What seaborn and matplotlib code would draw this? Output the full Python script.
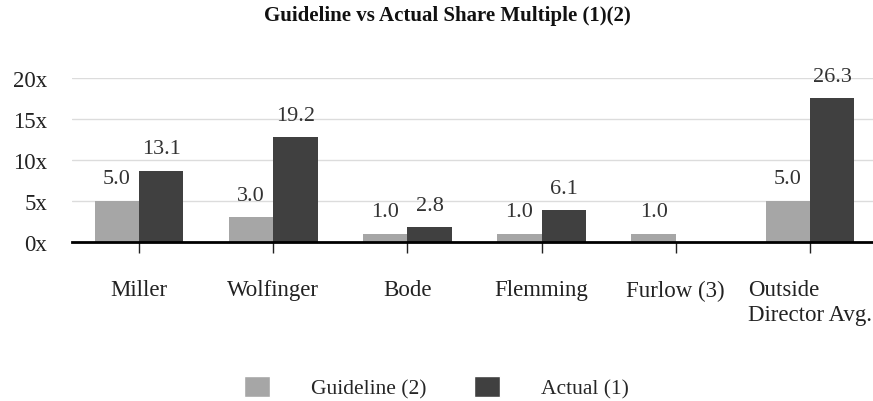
import matplotlib
matplotlib.use("Agg")
import matplotlib.pyplot as plt
import seaborn as sns
import pandas as pd
from matplotlib.patches import Patch

# values
categories = ["Miller", "Wolfinger", "Bode", "Flemming", "Furlow (3)", "Outside\nDirector Avg."]
series = ["Guideline (2)", "Actual (1)"]
guideline = [5.0, 3.0, 1.0, 1.0, 1.0, 5.0]
actual = [8.7, 12.8, 1.8, 3.9, 0.0, 17.5]  # bar heights as drawn
guideline_labels = ["5.0", "3.0", "1.0", "1.0", "1.0", "5.0"]
actual_labels = ["13.1", "19.2", "2.8", "6.1", "", "26.3"]
yticks = [0, 5, 10, 15, 20]
ytick_labels = ["0x", "5x", "10x", "15x", "20x"]
colors = ["#a6a6a6", "#404040"]

df = pd.DataFrame({
    "category": categories * 2,
    "series": [series[0]] * len(categories) + [series[1]] * len(categories),
    "value": guideline + actual,
})

sns.set_theme(style="white")
plt.rcParams["font.family"] = ["Liberation Serif", "DejaVu Serif"]

W, H = 873, 402
fig = plt.figure(figsize=(W / 100, H / 100), dpi=100)
ax = fig.add_axes([72 / W, 1 - 243 / H, 1 - 72 / W, (243 - 79) / H])

sns.barplot(data=df, x="category", y="value", hue="series", hue_order=series,
            order=categories, palette=colors, width=0.66, saturation=1,
            linewidth=0, legend=False, ax=ax)

ax.set_xlim(-0.5, 5.47)
ax.set_ylim(0, 20)
ax.set_yticks(yticks)
ax.set_yticklabels(ytick_labels)
ax.set_xlabel("")
ax.set_ylabel("")
ax.yaxis.grid(True, color="#dcdcdc", lw=1)
ax.set_axisbelow(True)
for s in ["left", "right", "top"]:
    ax.spines[s].set_visible(False)
ax.spines["bottom"].set_color("black")
ax.spines["bottom"].set_linewidth(2)
ax.spines["bottom"].set_zorder(5)

ax.tick_params(axis="x", bottom=True, length=8, width=1, color="#222222",
               pad=19, labelsize=16.5, labelcolor="#222222")
ax.tick_params(axis="y", left=False, pad=12, labelsize=16.5, labelcolor="#222222")
for lbl in ax.get_xticklabels():
    lbl.set_multialignment("left")

# value labels on top of the bars
for cont, labs in zip(ax.containers, [guideline_labels, actual_labels]):
    ax.bar_label(cont, labels=labs, padding=9, fontsize=16, color="#333333")

fig.text(447 / W, 1 - 16 / H, "Guideline vs Actual Share Multiple (1)(2)",
         ha="center", va="center", fontsize=15, weight="bold", color="#111111")

handles = [Patch(facecolor=c, label=s) for c, s in zip(colors, series)]
fig.legend(handles=handles, loc="center", bbox_to_anchor=(0.5, 1 - 388 / H),
           ncol=2, frameon=False, fontsize=15.5, handlelength=1.2, handleheight=1.15,
           handletextpad=1.9, columnspacing=2.2)

fig.savefig("out.png", dpi=100)
